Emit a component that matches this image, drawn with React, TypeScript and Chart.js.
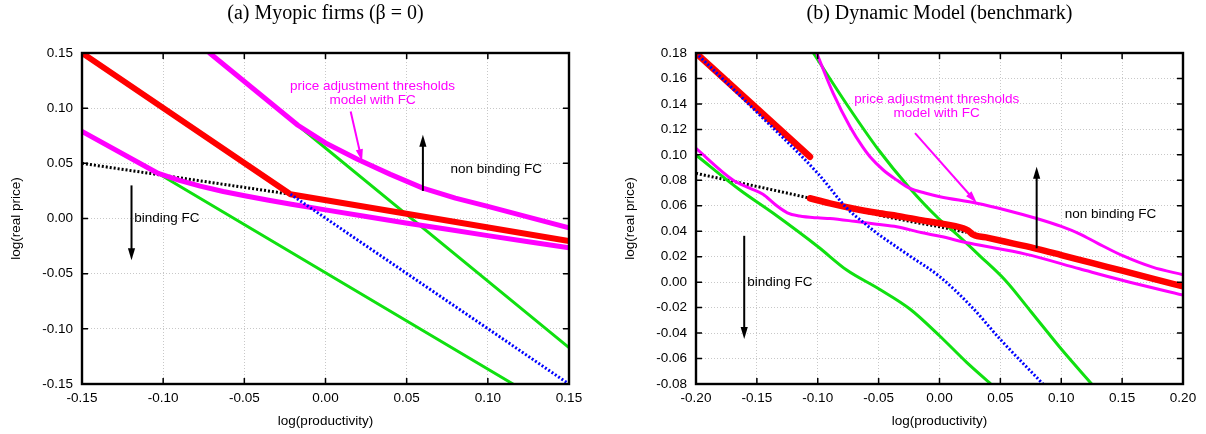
import React, { useEffect, useRef } from "react";
import { Chart, registerables } from "chart.js";

Chart.register(...registerables);

const RED = "#ff0000";
const MAGENTA = "#ff00ff";
const GREEN = "#10e010";
const BLUE = "#0000ff";
const BLACK = "#000000";
const SANS = "'Liberation Sans', Arial, Helvetica, sans-serif";
const SERIF = "'Liberation Serif', 'Times New Roman', serif";
const FONT_SIZE = 13.5;

// ---------------- Panel (a): Myopic firms ----------------
const aTitle = "(a) Myopic firms (β = 0)";
const aXTicks = [-0.15, -0.1, -0.05, 0.0, 0.05, 0.1, 0.15];
const aYTicks = [-0.15, -0.1, -0.05, 0.0, 0.05, 0.1, 0.15];

const aRedX = [-0.15, -0.0216, 0.15];
const aRedY = [0.15, 0.022, -0.0205];

const aMagUpX = [-0.0714, -0.017, 0.0, 0.02, 0.04, 0.06, 0.08, 0.1, 0.125, 0.15];
const aMagUpY = [0.15, 0.0845, 0.0685, 0.0535, 0.04, 0.0275, 0.0185, 0.011, 0.0013, -0.0085];

const aMagLoX = [-0.15, -0.103, -0.09, -0.0772, -0.063, -0.049, -0.035, -0.021, 0.0, 0.025, 0.0495, 0.075, 0.1, 0.125, 0.15];
const aMagLoY = [0.0789, 0.0408, 0.0345, 0.0294, 0.0245, 0.0204, 0.0165, 0.0129, 0.0078, 0.0018, -0.004, -0.0098, -0.0155, -0.021, -0.0265];

const aGreenUpX = [-0.0714, 0.15];
const aGreenUpY = [0.15, -0.117];

const aGreenLoX = [-0.103, 0.1155];
const aGreenLoY = [0.0408, -0.15];

const aBlueX = [-0.0216, 0.15];
const aBlueY = [0.022, -0.15];

const aBlackX = [-0.15, -0.0216];
const aBlackY = [0.05, 0.022];

const aNoteText = ["price adjustment thresholds", "model with FC", "non binding FC", "binding FC"];
const aNoteX = [0.029, 0.029, 0.1052, -0.1178];
const aNoteY = [0.1194, 0.1068, 0.0444, 0.0];

const aArrowX1 = [0.0155, 0.06, -0.1195];
const aArrowY1 = [0.0969, 0.025, 0.03];
const aArrowX2 = [0.0225, 0.06, -0.1195];
const aArrowY2 = [0.052, 0.0759, -0.0379];

// ---------------- Panel (b): Dynamic model ----------------
const bTitle = "(b) Dynamic Model (benchmark)";
const bXTicks = [-0.2, -0.15, -0.1, -0.05, 0.0, 0.05, 0.1, 0.15, 0.2];
const bYTicks = [-0.08, -0.06, -0.04, -0.02, 0.0, 0.02, 0.04, 0.06, 0.08, 0.1, 0.12, 0.14, 0.16, 0.18];

const bRed1X = [-0.2, -0.1064];
const bRed1Y = [0.18, 0.0985];

const bRed2X = [-0.1064, -0.09, -0.07, -0.0516, -0.03, -0.01, 0.0031, 0.012, 0.0195, 0.0235, 0.0277, 0.04, 0.06, 0.08, 0.1, 0.125, 0.15, 0.175, 0.2];
const bRed2Y = [0.0659, 0.0619, 0.0577, 0.0545, 0.0513, 0.0478, 0.0458, 0.0442, 0.0423, 0.0405, 0.0373, 0.0348, 0.0305, 0.0262, 0.0213, 0.0151, 0.009, 0.0028, -0.0033];

const bBlackX = [-0.2, -0.1064, -0.0489, -0.02, 0.0, 0.0222];
const bBlackY = [0.0855, 0.0659, 0.0525, 0.047, 0.0435, 0.039];

const bBlueX = [-0.2, -0.15, -0.1, -0.076, -0.0626, -0.05, -0.035, -0.0243, 0.0, 0.026, 0.05, 0.085];
const bBlueY = [0.18, 0.1335, 0.0855, 0.058, 0.047, 0.0375, 0.0275, 0.0205, 0.0045, -0.019, -0.045, -0.08];

const bGreenUpX = [-0.1036, -0.075, -0.05, -0.0255, -0.001, 0.0113, 0.0333, 0.0538, 0.075, 0.1, 0.125];
const bGreenUpY = [0.18, 0.138, 0.1038, 0.075, 0.0502, 0.04, 0.0205, 0.0017, -0.023, -0.0525, -0.08];

const bGreenLoX = [-0.2, -0.1639, -0.1365, -0.1, -0.0762, -0.0496, -0.0243, 0.0, 0.0223, 0.0422];
const bGreenLoY = [0.0999, 0.0724, 0.0541, 0.028, 0.0095, -0.0054, -0.0211, -0.0421, -0.063, -0.08];

const bMagUpX = [-0.1009, -0.0873, -0.0735, -0.063, -0.0571, -0.0462, -0.0351, -0.0242, -0.012, 0.0004, 0.0306, 0.055, 0.0798, 0.1, 0.115, 0.13, 0.15, 0.175, 0.2];
const bMagUpY = [0.18, 0.1483, 0.1221, 0.106, 0.0985, 0.0881, 0.0802, 0.0736, 0.07, 0.0671, 0.062, 0.0565, 0.05, 0.0438, 0.038, 0.0305, 0.021, 0.0118, 0.0058];

const bMagLoX = [-0.2, -0.17, -0.155, -0.145, -0.135, -0.125, -0.115, -0.1, -0.09, -0.07, -0.0516, -0.0351, -0.015, 0.0004, 0.025, 0.0707, 0.115, 0.15, 0.2];
const bMagLoY = [0.1051, 0.0805, 0.0735, 0.069, 0.061, 0.0545, 0.052, 0.0505, 0.05, 0.0478, 0.0455, 0.0435, 0.039, 0.036, 0.0305, 0.022, 0.0105, 0.0015, -0.0102];

const bNoteText = ["price adjustment thresholds", "model with FC", "non binding FC", "binding FC"];
const bNoteX = [-0.0023, -0.0023, 0.1405, -0.158];
const bNoteY = [0.1435, 0.133, 0.0535, 0.0];

const bArrowX1 = [-0.0201, 0.0798, -0.1604];
const bArrowY1 = [0.117, 0.0266, 0.0364];
const bArrowX2 = [0.0306, 0.0798, -0.1604];
const bArrowY2 = [0.0624, 0.0907, -0.0447];

// ---------------- helpers ----------------
const NOTE_COLORS = [MAGENTA, MAGENTA, BLACK, BLACK];
const NOTE_ALIGN: CanvasTextAlign[] = ["center", "center", "center", "left"];
const ARROW_COLORS = [MAGENTA, BLACK, BLACK];

const fmt = (v: number) => (Math.abs(v) < 1e-9 ? 0 : v).toFixed(2);

type Series = { xs: number[]; ys: number[]; color: string; width: number; dash?: number[]; smooth?: boolean };

function drawArrow(ctx: CanvasRenderingContext2D, x1: number, y1: number, x2: number, y2: number, color: string, width: number) {
  const ang = Math.atan2(y2 - y1, x2 - x1);
  const len = 12;
  const half = 3.6;
  const bx = x2 - len * Math.cos(ang);
  const by = y2 - len * Math.sin(ang);
  ctx.strokeStyle = color;
  ctx.fillStyle = color;
  ctx.lineWidth = width;
  ctx.lineCap = "butt";
  ctx.beginPath();
  ctx.moveTo(x1, y1);
  ctx.lineTo(bx + 2 * Math.cos(ang), by + 2 * Math.sin(ang));
  ctx.stroke();
  ctx.beginPath();
  ctx.moveTo(x2, y2);
  ctx.lineTo(bx + half * Math.sin(ang), by - half * Math.cos(ang));
  ctx.lineTo(bx - half * Math.sin(ang), by + half * Math.cos(ang));
  ctx.closePath();
  ctx.fill();
}

const framePlugin = {
  id: "frame",
  afterDatasetsDraw(chart: any) {
    const { ctx, chartArea, scales } = chart;
    const { left, right, top, bottom } = chartArea;
    ctx.save();
    ctx.strokeStyle = "#000";
    ctx.lineWidth = 1.5;
    ctx.beginPath();
    for (const t of scales.x.ticks) {
      const p = scales.x.getPixelForValue(t.value);
      ctx.moveTo(p, bottom);
      ctx.lineTo(p, bottom - 6);
      ctx.moveTo(p, top);
      ctx.lineTo(p, top + 6);
    }
    for (const t of scales.y.ticks) {
      const p = scales.y.getPixelForValue(t.value);
      ctx.moveTo(left, p);
      ctx.lineTo(left + 6, p);
      ctx.moveTo(right, p);
      ctx.lineTo(right - 6, p);
    }
    ctx.stroke();
    ctx.lineWidth = 2.4;
    ctx.strokeRect(left, top, right - left, bottom - top);
    ctx.restore();
  },
};

const notesPlugin = {
  id: "notes",
  afterDatasetsDraw(chart: any, _args: any, opts: any) {
    const { ctx, scales } = chart;
    const xs = scales.x;
    const ys = scales.y;
    ctx.save();
    (opts.arrows || []).forEach((a: any) => {
      drawArrow(ctx, xs.getPixelForValue(a.x1), ys.getPixelForValue(a.y1), xs.getPixelForValue(a.x2), ys.getPixelForValue(a.y2), a.color, 2);
    });
    (opts.texts || []).forEach((t: any) => {
      ctx.font = `${FONT_SIZE}px ${SANS}`;
      ctx.fillStyle = t.color;
      ctx.textAlign = t.align;
      ctx.textBaseline = "middle";
      ctx.fillText(t.text, xs.getPixelForValue(t.x), ys.getPixelForValue(t.y));
    });
    ctx.restore();
  },
};

type PanelProps = {
  title: string;
  xTicks: number[];
  yTicks: number[];
  series: Series[];
  noteText: string[];
  noteX: number[];
  noteY: number[];
  arrowX1: number[];
  arrowY1: number[];
  arrowX2: number[];
  arrowY2: number[];
  yAxisWidth: number;
  rightPad: number;
  yTitlePad: number;
  left: number;
};

function Panel(p: PanelProps) {
  const ref = useRef<HTMLCanvasElement | null>(null);
  useEffect(() => {
    if (!ref.current) return;
    const tickFont = { family: SANS, size: FONT_SIZE };
    const chart = new Chart(ref.current, {
      type: "scatter",
      data: {
        datasets: p.series.map((s) => ({
          data: s.xs.map((x, i) => ({ x, y: s.ys[i] })),
          showLine: true,
          borderColor: s.color,
          backgroundColor: s.color,
          borderWidth: s.width,
          borderDash: s.dash ?? [],
          borderCapStyle: s.dash ? "butt" : "round",
          borderJoinStyle: "round",
          pointRadius: 0,
          pointHoverRadius: 0,
          fill: false,
          tension: 0,
          cubicInterpolationMode: s.smooth ? "monotone" : "default",
        })) as any,
      },
      options: {
        responsive: false,
        animation: false,
        events: [],
        layout: { padding: { left: 0, right: p.rightPad, top: 0, bottom: 0 } },
        plugins: {
          legend: { display: false },
          tooltip: { enabled: false },
          title: {
            display: true,
            fullSize: false,
            text: p.title,
            color: "#000",
            font: { family: SERIF, size: 20, weight: "normal" },
            padding: { top: 2, bottom: 27 },
          },
          notes: {
            texts: p.noteText.map((text, i) => ({ text, x: p.noteX[i], y: p.noteY[i], color: NOTE_COLORS[i], align: NOTE_ALIGN[i] })),
            arrows: p.arrowX1.map((x1, i) => ({ x1, y1: p.arrowY1[i], x2: p.arrowX2[i], y2: p.arrowY2[i], color: ARROW_COLORS[i] })),
          },
        } as any,
        scales: {
          x: {
            type: "linear",
            min: p.xTicks[0],
            max: p.xTicks[p.xTicks.length - 1],
            afterBuildTicks: (s: any) => {
              s.ticks = p.xTicks.map((v) => ({ value: v }));
            },
            afterFit: (s: any) => {
              s.height = 50;
            },
            ticks: { callback: (v: any) => fmt(Number(v)), font: tickFont, color: "#000", padding: 6, maxRotation: 0, autoSkip: false },
            grid: { color: "#c8c8c8", lineWidth: 1, drawTicks: false },
            border: { display: false, dash: [1, 2] },
            title: { display: true, text: "log(productivity)", font: tickFont, color: "#000", padding: { top: 0, bottom: 5 } },
          },
          y: {
            type: "linear",
            min: p.yTicks[0],
            max: p.yTicks[p.yTicks.length - 1],
            afterBuildTicks: (s: any) => {
              s.ticks = p.yTicks.map((v) => ({ value: v }));
            },
            afterFit: (s: any) => {
              s.width = p.yAxisWidth;
            },
            ticks: { callback: (v: any) => fmt(Number(v)), font: tickFont, color: "#000", padding: 9, autoSkip: false },
            grid: { color: "#c8c8c8", lineWidth: 1, drawTicks: false },
            border: { display: false, dash: [1, 2] },
            title: { display: true, text: "log(real price)", font: tickFont, color: "#000", padding: { top: p.yTitlePad, bottom: 0 } },
          },
        } as any,
      },
      plugins: [framePlugin, notesPlugin],
    });
    return () => chart.destroy();
  }, []);
  return (
    <canvas
      ref={ref}
      width={603}
      height={434}
      style={{ position: "absolute", left: p.left, top: 0, width: 603, height: 434, display: "block" }}
    />
  );
}

export default function App() {
  const aSeries: Series[] = [
    { xs: aBlueX, ys: aBlueY, color: BLUE, width: 3, dash: [2, 2] },
    { xs: aRedX, ys: aRedY, color: RED, width: 6 },
    { xs: aMagUpX, ys: aMagUpY, color: MAGENTA, width: 5 },
    { xs: aMagLoX, ys: aMagLoY, color: MAGENTA, width: 5 },
    { xs: aGreenUpX, ys: aGreenUpY, color: GREEN, width: 3 },
    { xs: aGreenLoX, ys: aGreenLoY, color: GREEN, width: 3 },
    { xs: aBlackX, ys: aBlackY, color: BLACK, width: 3, dash: [2, 2] },
  ];
  const bSeries: Series[] = [
    { xs: bBlueX, ys: bBlueY, color: BLUE, width: 3, dash: [2, 2], smooth: true },
    { xs: bRed1X, ys: bRed1Y, color: RED, width: 6.5 },
    { xs: bRed2X, ys: bRed2Y, color: RED, width: 6.5, smooth: true },
    { xs: bMagUpX, ys: bMagUpY, color: MAGENTA, width: 3, smooth: true },
    { xs: bMagLoX, ys: bMagLoY, color: MAGENTA, width: 3, smooth: true },
    { xs: bGreenUpX, ys: bGreenUpY, color: GREEN, width: 3, smooth: true },
    { xs: bGreenLoX, ys: bGreenLoY, color: GREEN, width: 3, smooth: true },
    { xs: bBlackX, ys: bBlackY, color: BLACK, width: 3, dash: [2, 2], smooth: true },
  ];
  return (
    <div style={{ position: "absolute", left: 0, top: 0, width: 1206, height: 434, background: "#fff", overflow: "hidden" }}>
      <Panel
        title={aTitle}
        xTicks={aXTicks}
        yTicks={aYTicks}
        series={aSeries}
        noteText={aNoteText}
        noteX={aNoteX}
        noteY={aNoteY}
        arrowX1={aArrowX1}
        arrowY1={aArrowY1}
        arrowX2={aArrowX2}
        arrowY2={aArrowY2}
        yAxisWidth={82}
        rightPad={34}
        yTitlePad={8}
        left={0}
      />
      <Panel
        title={bTitle}
        xTicks={bXTicks}
        yTicks={bYTicks}
        series={bSeries}
        noteText={bNoteText}
        noteX={bNoteX}
        noteY={bNoteY}
        arrowX1={bArrowX1}
        arrowY1={bArrowY1}
        arrowX2={bArrowX2}
        arrowY2={bArrowY2}
        yAxisWidth={93}
        rightPad={23}
        yTitlePad={19}
        left={603}
      />
    </div>
  );
}
